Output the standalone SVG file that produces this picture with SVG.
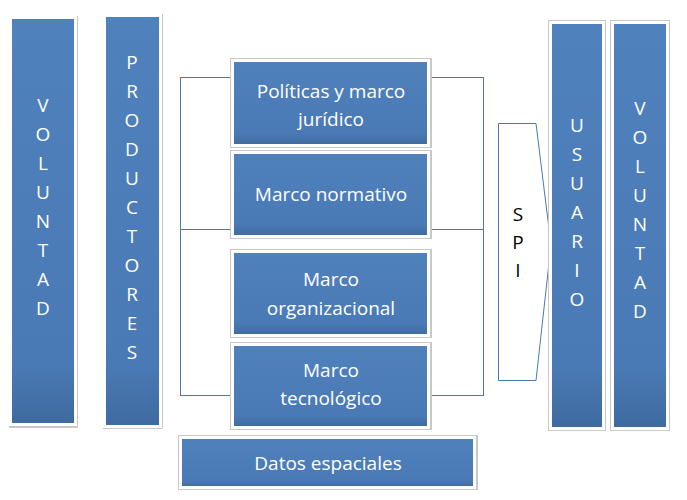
<svg xmlns="http://www.w3.org/2000/svg" width="687" height="500" viewBox="0 0 687 500">
<defs>
<linearGradient id="g" x1="0" y1="0" x2="0" y2="1"><stop offset="0" stop-color="#4F81BD"/><stop offset="0.85" stop-color="#4A7AB5"/><stop offset="1" stop-color="#3E6A9E"/></linearGradient>
</defs>
<style>
.b{fill:url(#g);stroke:#fff;stroke-width:3}
.sh{fill:#c8c8c8}
.t{font-family:"Open Sans","Liberation Sans",sans-serif;fill:#fff;font-size:19px;text-anchor:middle}
.v{font-family:"Open Sans","Liberation Sans",sans-serif;fill:#fff;font-size:19px;text-anchor:middle}
.k{font-family:"Open Sans","Liberation Sans",sans-serif;fill:#000;font-size:19px;text-anchor:middle}
.ln{fill:none;stroke:#4A7AB5;stroke-width:1}
</style>
<rect width="687" height="500" fill="#fff"/>
<g id="connectors">
<rect class="ln" x="180.5" y="77.5" width="303" height="152"/>
<rect class="ln" x="180.5" y="229.5" width="303" height="166"/>
</g>
<g id="spi">
<path d="M498.5 123.5 H536 L551 245 L536 380.5 H498.5 Z" fill="#fff" stroke="#4A7AB5" stroke-width="1"/>
<text class="k" x="518" y="221">S</text><text class="k" x="518" y="249">P</text><text class="k" x="518" y="277">I</text>
</g>
<g id="voluntad-left">
<rect class="sh" x="9" y="16" width="69" height="412"/>
<rect class="b" x="10.5" y="17.5" width="65" height="407"/>
<text class="v"><tspan x="43" y="112">V</tspan><tspan x="43" y="141">O</tspan><tspan x="43" y="170">L</tspan><tspan x="43" y="199">U</tspan><tspan x="43" y="228">N</tspan><tspan x="43" y="257">T</tspan><tspan x="43" y="286">A</tspan><tspan x="43" y="315">D</tspan></text>
</g>
<g id="productores">
<rect class="sh" x="103" y="14" width="60" height="415"/>
<rect class="b" x="104.5" y="15.5" width="56" height="411"/>
<text class="v"><tspan x="132" y="69">P</tspan><tspan x="132" y="98">R</tspan><tspan x="132" y="127">O</tspan><tspan x="132" y="156">D</tspan><tspan x="132" y="185">U</tspan><tspan x="132" y="214">C</tspan><tspan x="132" y="243">T</tspan><tspan x="132" y="272">O</tspan><tspan x="132" y="301">R</tspan><tspan x="132" y="330">E</tspan><tspan x="132" y="359">S</tspan></text>
</g>
<g id="politicas">
<rect class="sh" x="230" y="58" width="202" height="90"/>
<rect class="b" x="232.5" y="60.5" width="196" height="85"/>
<text class="t"><tspan x="331" y="98">Políticas y marco</tspan><tspan x="331" y="126">jurídico</tspan></text>
</g>
<g id="normativo">
<rect class="sh" x="230" y="150" width="202" height="89"/>
<rect class="b" x="232.5" y="152.5" width="196" height="84"/>
<text class="t" x="331" y="201">Marco normativo</text>
</g>
<g id="organizacional">
<rect class="sh" x="230" y="249" width="202" height="89"/>
<rect class="b" x="232.5" y="251.5" width="196" height="84"/>
<text class="t"><tspan x="331" y="286">Marco</tspan><tspan x="331" y="315">organizacional</tspan></text>
</g>
<g id="tecnologico">
<rect class="sh" x="230" y="342" width="202" height="88"/>
<rect class="b" x="232.5" y="344.5" width="196" height="83"/>
<text class="t"><tspan x="331" y="377">Marco</tspan><tspan x="331" y="405">tecnológico</tspan></text>
</g>
<g id="datos">
<rect class="sh" x="178" y="435" width="300" height="55"/>
<rect class="b" x="180.5" y="437.5" width="294" height="50"/>
<text class="t" x="328" y="470">Datos espaciales</text>
</g>
<g id="usuario">
<rect class="sh" x="548" y="20" width="58" height="411"/>
<rect class="b" x="550.5" y="22.5" width="53" height="406"/>
<text class="v"><tspan x="577" y="132">U</tspan><tspan x="577" y="161">S</tspan><tspan x="577" y="190">U</tspan><tspan x="577" y="219">A</tspan><tspan x="577" y="248">R</tspan><tspan x="577" y="277">I</tspan><tspan x="577" y="306">O</tspan></text>
</g>
<g id="voluntad-right">
<rect class="sh" x="610" y="20" width="60" height="411"/>
<rect class="b" x="612.5" y="22.5" width="55" height="406"/>
<text class="v"><tspan x="640" y="115">V</tspan><tspan x="640" y="144">O</tspan><tspan x="640" y="173">L</tspan><tspan x="640" y="202">U</tspan><tspan x="640" y="231">N</tspan><tspan x="640" y="260">T</tspan><tspan x="640" y="289">A</tspan><tspan x="640" y="318">D</tspan></text>
</g>
</svg>
